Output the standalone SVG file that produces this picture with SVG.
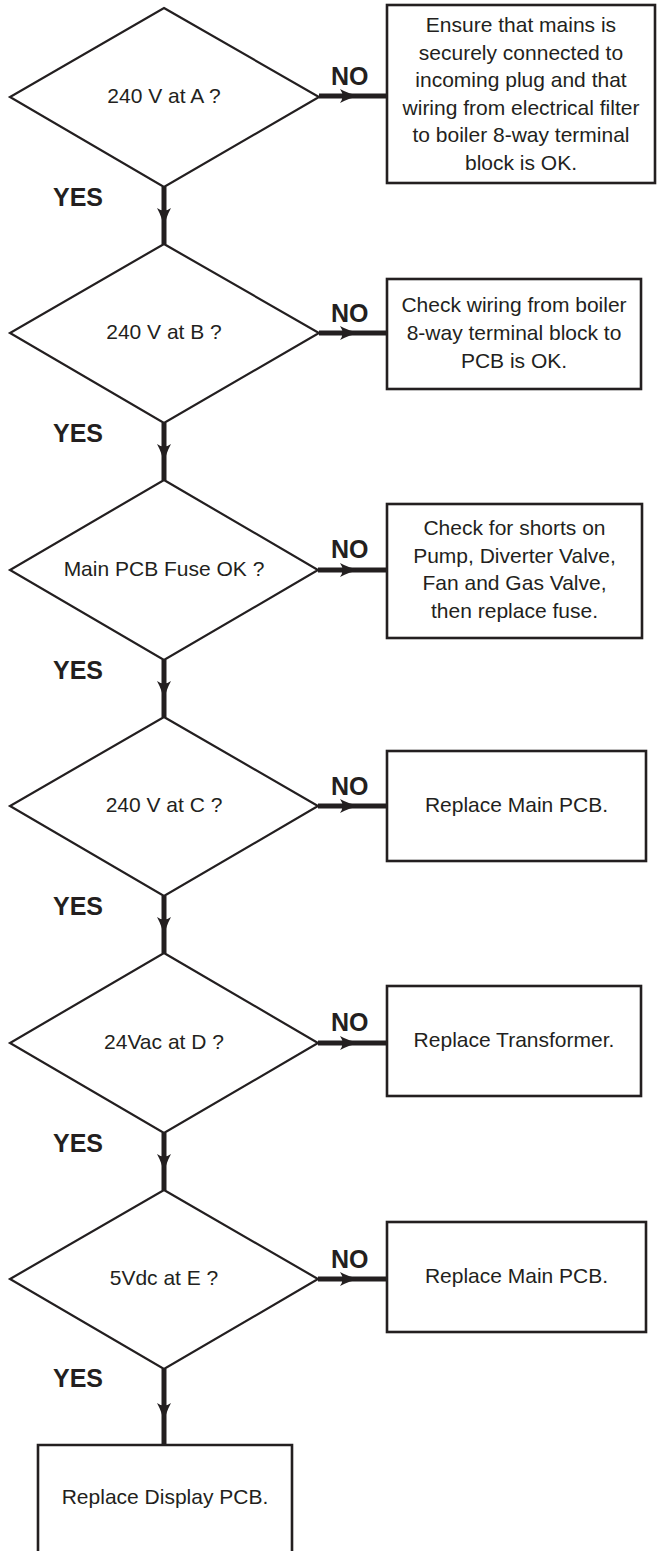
<svg xmlns="http://www.w3.org/2000/svg" width="657" height="1551" viewBox="0 0 657 1551">
<style>
.dia{fill:#fff;stroke:#231f20;stroke-width:2.2}
.box{fill:#fff;stroke:#231f20;stroke-width:2.6}
.t{font-family:"Liberation Sans",Arial,sans-serif;font-size:21px;fill:#231f20;text-anchor:middle}
.lbl{font-family:"Liberation Sans",Arial,sans-serif;font-size:25px;font-weight:bold;fill:#231f20}
.con{fill:none;stroke:#231f20;stroke-width:5;marker-mid:url(#ah)}
</style>
<defs>
<marker id="ah" markerUnits="userSpaceOnUse" viewBox="0 0 20 14" refX="20" refY="7" markerWidth="20" markerHeight="14" orient="auto">
<path d="M0,0 Q9,5 20,7 Q9,9 0,14 Q5,7 0,0 Z" fill="#231f20"/>
</marker>
</defs>
<rect width="657" height="1551" fill="#fff"/>
<g id="connectors">
<path class="con" d="M319,96 L360,96 L388,96"/>
<path class="con" d="M319,333 L360,333 L388,333"/>
<path class="con" d="M318,570 L360,570 L388,570"/>
<path class="con" d="M318,806 L360,806 L388,806"/>
<path class="con" d="M318,1043 L360,1043 L388,1043"/>
<path class="con" d="M318,1279 L360,1279 L388,1279"/>
<path class="con" d="M164,187 L164,228 L164,244"/>
<path class="con" d="M164,423 L164,464 L164,480"/>
<path class="con" d="M164,660 L164,701 L164,717"/>
<path class="con" d="M164,896 L164,937 L164,953"/>
<path class="con" d="M164,1133 L164,1174 L164,1190"/>
<path class="con" d="M164,1369 L164,1423 L164,1445"/>
<text class="lbl" x="331" y="85">NO</text>
<text class="lbl" x="331" y="322">NO</text>
<text class="lbl" x="331" y="558">NO</text>
<text class="lbl" x="331" y="795">NO</text>
<text class="lbl" x="331" y="1031">NO</text>
<text class="lbl" x="331" y="1268">NO</text>
<text class="lbl" x="53" y="206">YES</text>
<text class="lbl" x="53" y="442">YES</text>
<text class="lbl" x="53" y="679">YES</text>
<text class="lbl" x="53" y="915">YES</text>
<text class="lbl" x="53" y="1152">YES</text>
<text class="lbl" x="53" y="1387">YES</text>
</g>
<g id="d1"><polygon class="dia" points="164,8 319,97 164,187 10,97"/><text class="t" x="164" y="103">240 V at A ?</text></g>
<g id="d2"><polygon class="dia" points="164,244 319,333 164,423 10,333"/><text class="t" x="164" y="339">240 V at B ?</text></g>
<g id="d3"><polygon class="dia" points="164,480 318,570 164,660 10,570"/><text class="t" x="164" y="576">Main PCB Fuse OK ?</text></g>
<g id="d4"><polygon class="dia" points="164,717 318,806 164,896 10,806"/><text class="t" x="164" y="812">240 V at C ?</text></g>
<g id="d5"><polygon class="dia" points="164,953 318,1043 164,1133 10,1043"/><text class="t" x="164" y="1049">24Vac at D ?</text></g>
<g id="d6"><polygon class="dia" points="164,1190 318,1279 164,1369 10,1279"/><text class="t" x="164" y="1285">5Vdc at E ?</text></g>
<g id="b1"><rect class="box" x="387" y="5" width="268" height="178"/>
<text class="t"><tspan x="521" y="32">Ensure that mains is</tspan><tspan x="521" y="59.5">securely connected to</tspan><tspan x="521" y="87">incoming plug and that</tspan><tspan x="521" y="114.5">wiring from electrical filter</tspan><tspan x="521" y="142">to boiler 8-way terminal</tspan><tspan x="521" y="169.5">block is OK.</tspan></text></g>
<g id="b2"><rect class="box" x="387" y="279" width="254" height="110"/>
<text class="t"><tspan x="514" y="312">Check wiring from boiler</tspan><tspan x="514" y="340">8-way terminal block to</tspan><tspan x="514" y="368">PCB is OK.</tspan></text></g>
<g id="b3"><rect class="box" x="387" y="504" width="255" height="134"/>
<text class="t"><tspan x="514.5" y="535">Check for shorts on</tspan><tspan x="514.5" y="563">Pump, Diverter Valve,</tspan><tspan x="514.5" y="590">Fan and Gas Valve,</tspan><tspan x="514.5" y="618">then replace fuse.</tspan></text></g>
<g id="b4"><rect class="box" x="387" y="751" width="259" height="110"/><text class="t" x="516.5" y="812">Replace Main PCB.</text></g>
<g id="b5"><rect class="box" x="387" y="986" width="254" height="110"/><text class="t" x="514" y="1047">Replace Transformer.</text></g>
<g id="b6"><rect class="box" x="387" y="1222" width="259" height="110"/><text class="t" x="516.5" y="1283">Replace Main PCB.</text></g>
<g id="b7"><path class="box" d="M38,1555 L38,1445 L292,1445 L292,1555"/><text class="t" x="165" y="1504">Replace Display PCB.</text></g>
</svg>
